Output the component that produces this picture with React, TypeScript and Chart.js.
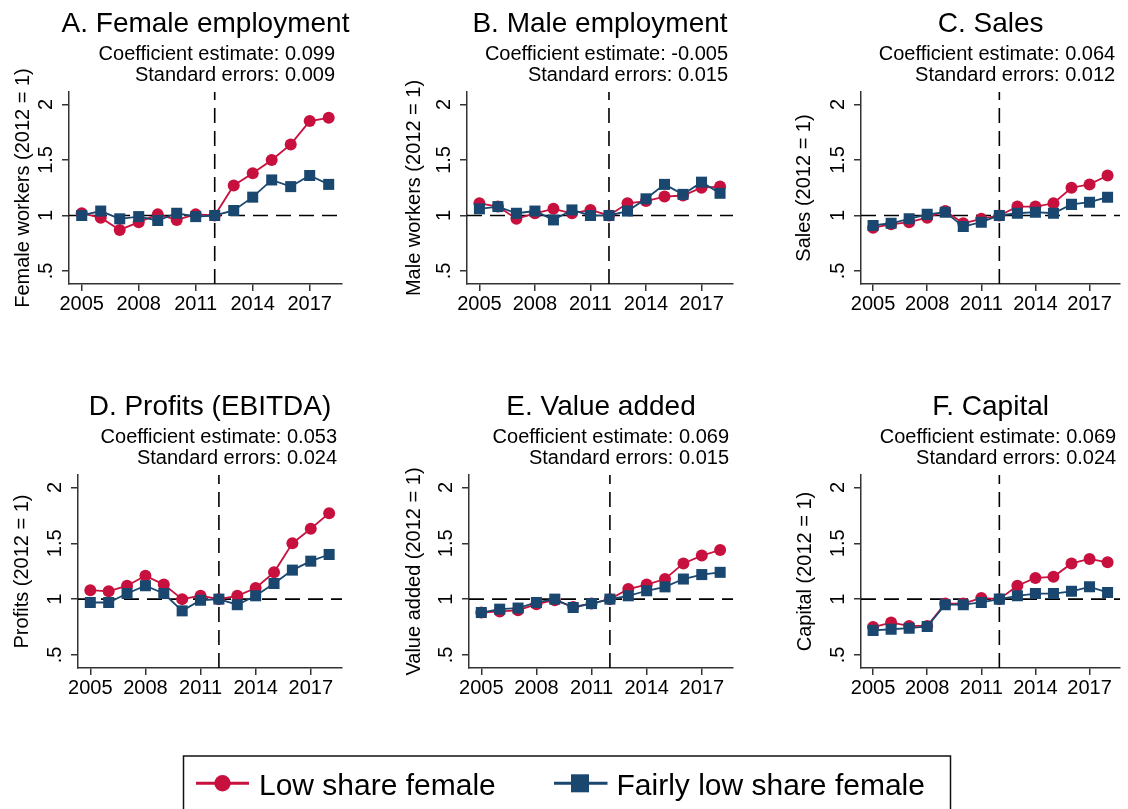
import React, { useEffect, useRef } from 'react';
import { Chart, registerables } from 'chart.js';

Chart.register(...registerables);

// ---------- data ----------
const years = [2005, 2006, 2007, 2008, 2009, 2010, 2011, 2012, 2013, 2014, 2015, 2016, 2017, 2018];
const xTickValues = [2005, 2008, 2011, 2014, 2017];
const yTickValues = [0.5, 1, 1.5, 2];
const yTickLabels = ['.5', '1', '1.5', '2'];
const treatmentYear = 2012;
const referenceLevel = 1;
const xRange = [2004.33, 2018.7];
const yRange = [0.383, 2.112];

const seriesNames = ['Low share female', 'Fairly low share female'];

const panelTitles = [
  'A. Female employment',
  'B. Male employment',
  'C. Sales',
  'D. Profits (EBITDA)',
  'E. Value added',
  'F. Capital',
];
const yAxisTitles = [
  'Female workers (2012 = 1)',
  'Male workers (2012 = 1)',
  'Sales (2012 = 1)',
  'Profits (2012 = 1)',
  'Value added (2012 = 1)',
  'Capital (2012 = 1)',
];
const coefficientEstimates = ['0.099', '-0.005', '0.064', '0.053', '0.069', '0.069'];
const standardErrors = ['0.009', '0.015', '0.012', '0.024', '0.015', '0.024'];

const lowFemaleEmployment = [1.02, 0.98, 0.87, 0.94, 1.01, 0.96, 1.01, 1.0, 1.27, 1.38, 1.5, 1.64, 1.85, 1.88];
const fairlyFemaleEmployment = [1.0, 1.04, 0.97, 0.99, 0.955, 1.02, 0.99, 1.0, 1.045, 1.165, 1.32, 1.26, 1.36, 1.28];
const lowMaleEmployment = [1.11, 1.08, 0.97, 1.02, 1.06, 1.02, 1.05, 1.0, 1.11, 1.13, 1.17, 1.18, 1.25, 1.26];
const fairlyMaleEmployment = [1.06, 1.08, 1.02, 1.04, 0.96, 1.05, 1.0, 1.0, 1.04, 1.15, 1.28, 1.19, 1.3, 1.2];
const lowSales = [0.89, 0.92, 0.94, 0.98, 1.04, 0.93, 0.97, 1.0, 1.08, 1.08, 1.11, 1.25, 1.28, 1.36];
const fairlySales = [0.91, 0.93, 0.97, 1.01, 1.03, 0.9, 0.94, 1.0, 1.02, 1.03, 1.02, 1.1, 1.12, 1.165];
const lowProfits = [1.08, 1.07, 1.12, 1.21, 1.13, 1.0, 1.03, 1.0, 1.03, 1.1, 1.24, 1.5, 1.63, 1.77];
const fairlyProfits = [0.97, 0.97, 1.05, 1.12, 1.05, 0.895, 0.99, 1.0, 0.95, 1.03, 1.14, 1.26, 1.34, 1.4];
const lowValueAdded = [0.88, 0.89, 0.9, 0.955, 0.99, 0.93, 0.96, 1.0, 1.09, 1.13, 1.18, 1.32, 1.39, 1.44];
const fairlyValueAdded = [0.88, 0.91, 0.92, 0.97, 1.0, 0.925, 0.96, 1.0, 1.03, 1.075, 1.11, 1.18, 1.22, 1.24];
const lowCapital = [0.75, 0.79, 0.76, 0.76, 0.96, 0.96, 1.01, 1.0, 1.12, 1.19, 1.2, 1.32, 1.36, 1.33];
const fairlyCapital = [0.72, 0.73, 0.74, 0.755, 0.95, 0.95, 0.97, 1.0, 1.03, 1.05, 1.05, 1.07, 1.11, 1.06];

const lowSeries = [lowFemaleEmployment, lowMaleEmployment, lowSales, lowProfits, lowValueAdded, lowCapital];
const fairlySeries = [fairlyFemaleEmployment, fairlyMaleEmployment, fairlySales, fairlyProfits, fairlyValueAdded, fairlyCapital];

// ---------- style / layout ----------
const FONT = "'Liberation Sans', Arial, Helvetica, sans-serif";
const RED = '#C8103E';
const BLUE = '#1A476F';
const AXIS = '#333333';

const colX = [0, 376, 752];
const colW = 376;
const rowY = [0, 380];
const rowH = [380, 365];

// plot rectangle (page px), y-axis block width, note right offset
const panelLayout = [
  { col: 0, row: 0, L: 69, R: 342, T: 92, B: 284, wy: 57.7, noteShift: -7 },
  { col: 1, row: 0, L: 467, R: 733, T: 92, B: 284, wy: 65, noteShift: -5 },
  { col: 2, row: 0, L: 861, R: 1125, T: 92, B: 284, wy: 68.3, noteShift: -5 },
  { col: 0, row: 1, L: 78, R: 342, T: 475, B: 668, wy: 68, noteShift: -5 },
  { col: 1, row: 1, L: 469, R: 733, T: 475, B: 668, wy: 67, noteShift: -4 },
  { col: 2, row: 1, L: 861, R: 1125, T: 475, B: 668, wy: 68, noteShift: -4 },
];
const X_AXIS_H = 40;

const notesPlugin = {
  id: 'panelNotes',
  afterDraw(chart: any, _args: any, opts: any) {
    const { ctx, chartArea } = chart;
    ctx.save();
    ctx.fillStyle = '#000';
    ctx.textBaseline = 'alphabetic';
    ctx.font = `28px ${FONT}`;
    ctx.textAlign = 'center';
    ctx.fillText(opts.title, (chartArea.left + chartArea.right) / 2, chartArea.top - 60);
    ctx.font = `20px ${FONT}`;
    ctx.textAlign = 'right';
    const xr = chartArea.right + opts.noteShift;
    ctx.fillText(`Coefficient estimate: ${opts.coef}`, xr, chartArea.top - 32);
    ctx.fillText(`Standard errors: ${opts.se}`, xr, chartArea.top - 11);
    ctx.restore();
  },
};

function Panel({ idx }: { idx: number }) {
  const ref = useRef<HTMLCanvasElement | null>(null);
  const lay = panelLayout[idx];
  const cx = colX[lay.col];
  const cy = rowY[lay.row];
  const ch = rowH[lay.row];

  useEffect(() => {
    if (!ref.current) return;
    const padding = {
      left: lay.L - cx - lay.wy,
      right: cx + colW - lay.R,
      top: lay.T - cy,
      bottom: cy + ch - lay.B - X_AXIS_H,
    };
    const axisGrid = {
      display: true,
      drawOnChartArea: false,
      drawTicks: true,
      tickLength: 7,
      color: AXIS,
      lineWidth: 1.5,
    };
    const axisBorder = { display: true, color: AXIS, width: 1.5 };
    const chart = new Chart(ref.current, {
      type: 'line',
      data: {
        datasets: [
          {
            label: 'ref-h',
            data: [
              { x: xRange[0], y: referenceLevel },
              { x: xRange[1], y: referenceLevel },
            ],
            borderColor: '#000',
            borderWidth: 1.6,
            borderDash: [15, 8],
            pointRadius: 0,
            order: 3,
          },
          {
            label: 'ref-v',
            data: [
              { x: treatmentYear, y: yRange[0] },
              { x: treatmentYear, y: yRange[1] },
            ],
            borderColor: '#000',
            borderWidth: 1.6,
            borderDash: [15, 8],
            pointRadius: 0,
            order: 3,
          },
          {
            label: seriesNames[0],
            data: years.map((y, i) => ({ x: y, y: lowSeries[idx][i] })),
            borderColor: RED,
            backgroundColor: RED,
            borderWidth: 1.8,
            pointStyle: 'circle',
            pointRadius: 6,
            pointBorderWidth: 0,
            pointBackgroundColor: RED,
            order: 2,
          },
          {
            label: seriesNames[1],
            data: years.map((y, i) => ({ x: y, y: fairlySeries[idx][i] })),
            borderColor: BLUE,
            backgroundColor: BLUE,
            borderWidth: 1.8,
            pointStyle: 'rect',
            pointRadius: 7.8,
            pointBorderWidth: 0,
            pointBackgroundColor: BLUE,
            order: 1,
          },
        ],
      },
      options: {
        responsive: false,
        animation: false,
        events: [],
        layout: { padding },
        plugins: {
          legend: { display: false },
          tooltip: { enabled: false },
          panelNotes: {
            title: panelTitles[idx],
            coef: coefficientEstimates[idx],
            se: standardErrors[idx],
            noteShift: lay.noteShift,
          },
        } as any,
        scales: {
          x: {
            type: 'linear',
            min: xRange[0],
            max: xRange[1],
            afterBuildTicks: (s: any) => {
              s.ticks = xTickValues.map((v) => ({ value: v }));
            },
            afterFit: (s: any) => {
              s.height = X_AXIS_H;
            },
            ticks: {
              autoSkip: false,
              maxRotation: 0,
              minRotation: 0,
              padding: 1,
              color: '#000',
              font: { family: FONT, size: 20 },
              callback: (v: any) => String(v),
            },
            grid: axisGrid,
            border: axisBorder,
          },
          y: {
            type: 'linear',
            min: yRange[0],
            max: yRange[1],
            afterBuildTicks: (s: any) => {
              s.ticks = yTickValues.map((v) => ({ value: v }));
            },
            afterFit: (s: any) => {
              s.width = lay.wy;
            },
            ticks: {
              autoSkip: false,
              minRotation: 90,
              maxRotation: 90,
              crossAlign: 'center',
              padding: 2,
              color: '#000',
              font: { family: FONT, size: 20 },
              callback: (v: any) => {
                const k = yTickValues.indexOf(Number(v));
                return k >= 0 ? yTickLabels[k] : '';
              },
            },
            grid: axisGrid,
            border: axisBorder,
            title: {
              display: true,
              text: yAxisTitles[idx],
              color: '#000',
              font: { family: FONT, size: 20 },
              padding: { top: 0, bottom: 0 },
            },
          },
        },
      } as any,
      plugins: [notesPlugin as any],
    });
    return () => chart.destroy();
  }, [idx]);

  return (
    <canvas
      ref={ref}
      width={colW}
      height={ch}
      style={{ position: 'absolute', left: cx, top: cy, width: colW, height: ch }}
    />
  );
}

function Legend() {
  return (
    <svg
      width={1128}
      height={69}
      style={{ position: 'absolute', left: 0, top: 740 }}
    >
      <rect x={183.5} y={16} width={767} height={70} fill="none" stroke="#111" strokeWidth={1.5} />
      <line x1={196} y1={43.3} x2={249} y2={43.3} stroke={RED} strokeWidth={3} />
      <circle cx={222.5} cy={43.3} r={8.2} fill={RED} />
      <text x={259} y={55} fontSize={30} fontFamily={FONT} fill="#000">
        {seriesNames[0]}
      </text>
      <line x1={554} y1={43.3} x2={607.5} y2={43.3} stroke={BLUE} strokeWidth={3} />
      <rect x={571} y={34.3} width={18} height={18} fill={BLUE} />
      <text x={616.5} y={55} fontSize={30} fontFamily={FONT} fill="#000">
        {seriesNames[1]}
      </text>
    </svg>
  );
}

export default function App() {
  return (
    <div
      style={{
        position: 'absolute',
        left: 0,
        top: 0,
        width: 1128,
        height: 809,
        overflow: 'hidden',
        background: '#fff',
      }}
    >
      {panelTitles.map((_, i) => (
        <Panel key={i} idx={i} />
      ))}
      <Legend />
    </div>
  );
}
